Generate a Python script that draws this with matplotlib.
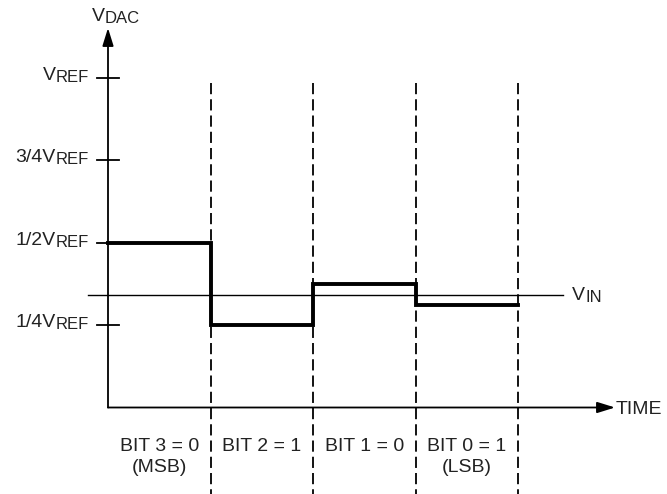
import matplotlib
matplotlib.use('Agg')
import matplotlib.pyplot as plt
from matplotlib.transforms import offset_copy

plt.rcParams['font.family'] = ['Liberation Sans', 'DejaVu Sans']

# ---- data ----
bit_edges = [0, 1, 2, 3, 4]
dac_levels = [1/2, 1/4, 3/8, 5/16]
v_in = 0.341
ytick_vals = [1.0, 0.75, 0.5, 0.25]
ytick_main = ['V', '3/4V', '1/2V', '1/4V']
ytick_sub = ['REF', 'REF', 'REF', 'REF']
bit_labels = ['BIT 3 = 0', 'BIT 2 = 1', 'BIT 1 = 0', 'BIT 0 = 1']
bit_notes = ['(MSB)', '', '', '(LSB)']

TXT = '#222222'
PX_X = 102.6   # pixels per bit period
PX_Y = 329.5   # pixels per VREF

fig = plt.figure(figsize=(6.67, 4.94), dpi=100)
ax = fig.add_axes([0, 0, 1, 1])
ax.set_xlim(-108 / PX_X, (667 - 108) / PX_X)
ax.set_ylim((407.5 - 494) / PX_Y, 407.5 / PX_Y)
ax.axis('off')
renderer = fig.canvas.get_renderer()

# axes with arrows
ax.annotate('', xy=(0, (407.5 - 28) / PX_Y), xytext=(0, 0),
            arrowprops=dict(arrowstyle='-|>,head_length=0.9,head_width=0.28',
                            lw=1.3, color='k', shrinkA=0, shrinkB=0,
                            mutation_scale=12))
ax.annotate('', xy=((615 - 108) / PX_X, 0), xytext=(0, 0),
            arrowprops=dict(arrowstyle='-|>,head_length=0.9,head_width=0.28',
                            lw=1.3, color='k', shrinkA=0, shrinkB=0,
                            mutation_scale=12))

# ticks
for v in ytick_vals:
    ax.plot([-0.11, 0.11], [v, v], color='k', lw=1.3)

# dashed bit boundaries
top = (407.5 - 83) / PX_Y
bottom = ax.get_ylim()[0]
for x in bit_edges[1:]:
    ax.plot([x, x], [top, bottom], color='k', lw=1.3, ls=(0, (6.2, 2.8)))

# VIN line
ax.plot([-0.195, 4.43], [v_in, v_in], color='k', lw=1.0)

# DAC step
ax.step(bit_edges, dac_levels + [dac_levels[-1]], where='post', color='k',
        lw=2.8, solid_joinstyle='miter')


def label_sub(x, y, main, sub, ha, size=14, subsize=12, dy=-2):
    if ha == 'right':
        ts = ax.text(x, y, sub, size=subsize, ha='right', va='baseline', color=TXT,
                     transform=offset_copy(ax.transData, fig, 0, dy, units='dots'))
        w = ts.get_window_extent(renderer).width
        ax.text(x, y, main, size=size, ha='right', va='baseline', color=TXT,
                transform=offset_copy(ax.transData, fig, -w, 0, units='dots'))
    else:
        tm = ax.text(x, y, main, size=size, ha='left', va='baseline', color=TXT)
        w = tm.get_window_extent(renderer).width
        ax.text(x, y, sub, size=subsize, ha='left', va='baseline', color=TXT,
                transform=offset_copy(ax.transData, fig, w, dy, units='dots'))


for v, m, s in zip(ytick_vals, ytick_main, ytick_sub):
    label_sub(-0.185, v - 2 / PX_Y, m, s, 'right')

label_sub((92 - 108) / PX_X, (407.5 - 21) / PX_Y, 'V', 'DAC', 'left')
label_sub((572 - 108) / PX_X, (407.5 - 300) / PX_Y, 'V', 'IN', 'left')
ax.text((616 - 108) / PX_X, (407.5 - 414) / PX_Y, 'TIME', size=14,
        ha='left', va='baseline', color=TXT)

for i, (lab, note) in enumerate(zip(bit_labels, bit_notes)):
    xc = bit_edges[i] + 0.5
    ax.text(xc, (407.5 - 451) / PX_Y, lab, size=14, ha='center', va='baseline', color=TXT)
    if note:
        ax.text(xc, (407.5 - 472) / PX_Y, note, size=14, ha='center', va='baseline', color=TXT)

fig.savefig('out.png', dpi=100)
